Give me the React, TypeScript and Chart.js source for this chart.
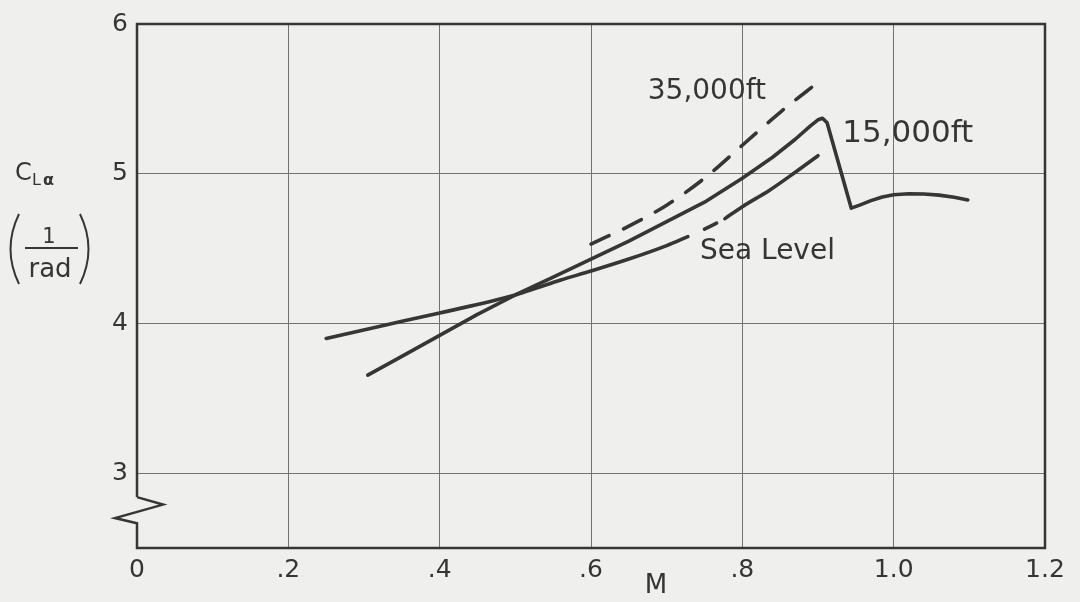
import React, { useEffect, useRef } from "react";
import { Chart, registerables } from "chart.js";

Chart.register(...registerables);

// Axis ticks
const machTicks = [0, 0.2, 0.4, 0.6, 0.8, 1.0, 1.2];
const machTickLabels = ["0", ".2", ".4", ".6", ".8", "1.0", "1.2"];
const clTicks = [3, 4, 5, 6];
const clTickLabels = ["3", "4", "5", "6"];

// Sea level lift-curve slope (null = pen lift in the curve)
const seaLevelMach = [0.25, 0.32, 0.4, 0.5, 0.53, 0.56, 0.6, 0.65, 0.7, 0.728, 0.739, 0.75, 0.766, 0.771, 0.777, 0.8, 0.836, 0.87, 0.9];
const seaLevelCl = [3.9, 3.98, 4.07, 4.19, 4.24, 4.29, 4.35, 4.43, 4.52, 4.58, null, 4.63, 4.67, null, 4.7, 4.78, 4.89, 5.01, 5.12];

// 15,000 ft
const alt15kMach = [0.305, 0.35, 0.4, 0.45, 0.5, 0.55, 0.6, 0.65, 0.7, 0.75, 0.8, 0.84, 0.87, 0.89, 0.9, 0.906, 0.912, 0.944, 0.955, 0.97, 0.985, 1.0, 1.02, 1.04, 1.06, 1.08, 1.098];
const alt15kCl = [3.655, 3.78, 3.92, 4.06, 4.19, 4.31, 4.43, 4.55, 4.68, 4.81, 4.97, 5.11, 5.23, 5.32, 5.36, 5.37, 5.34, 4.77, 4.79, 4.82, 4.845, 4.86, 4.866, 4.865, 4.857, 4.843, 4.825];

// 35,000 ft
const alt35kMach = [0.6, 0.65, 0.7, 0.75, 0.8, 0.85, 0.9];
const alt35kCl = [4.53, 4.65, 4.79, 4.97, 5.19, 5.41, 5.61];

const curveNames = ["Sea Level", "15,000ft", "35,000ft"];

const INK = "#363636";
const GRID = "#727272";
const TEXT = "#353535";
const FONT = "'DejaVu Sans', sans-serif";

const toPoints = (xs: number[], ys: (number | null)[]) =>
  xs.map((x, i) => ({ x, y: ys[i] }));

// Curve labels anchored in data space (left edge, baseline)
const curveLabelAnchors = [
  { text: curveNames[0], m: 0.744, cl: 4.43, size: 28 },
  { text: curveNames[1], m: 0.932, cl: 5.21, size: 31 },
  { text: curveNames[2], m: 0.675, cl: 5.5, size: 28 },
];

const framePlugin = {
  id: "frameAndNotes",
  afterDraw(chart: any) {
    const { ctx, chartArea, scales } = chart;
    const { left, right, top, bottom } = chartArea;
    const y = scales.y;
    const x = scales.x;
    ctx.save();

    // Plot frame with the broken-axis zigzag on the ordinate
    ctx.strokeStyle = INK;
    ctx.lineWidth = 2.5;
    ctx.lineJoin = "miter";
    ctx.beginPath();
    ctx.moveTo(left, y.getPixelForValue(2.84));
    ctx.lineTo(left, top);
    ctx.lineTo(right, top);
    ctx.lineTo(right, bottom);
    ctx.lineTo(left, bottom);
    ctx.lineTo(left, y.getPixelForValue(2.665));
    ctx.lineTo(left - 22, y.getPixelForValue(2.7));
    ctx.lineTo(left + 26, y.getPixelForValue(2.79));
    ctx.lineTo(left, y.getPixelForValue(2.84));
    ctx.stroke();

    // Curve labels
    ctx.fillStyle = TEXT;
    ctx.textAlign = "left";
    ctx.textBaseline = "alphabetic";
    for (const a of curveLabelAnchors) {
      ctx.font = `${a.size}px ${FONT}`;
      ctx.fillText(a.text, x.getPixelForValue(a.m), y.getPixelForValue(a.cl));
    }

    // Abscissa title
    ctx.textAlign = "center";
    ctx.font = `26px ${FONT}`;
    ctx.fillText("M", x.getPixelForValue(0.686), bottom + 45);

    // Ordinate title: C_L_alpha (1/rad)
    ctx.textAlign = "left";
    ctx.font = `24px ${FONT}`;
    ctx.fillText("C", 15, 180);
    ctx.font = `16px ${FONT}`;
    ctx.fillText("L", 32, 185);
    ctx.font = `bold 16px ${FONT}`;
    ctx.fillText("α", 43, 185);

    ctx.lineWidth = 2;
    ctx.beginPath();
    ctx.moveTo(19, 214);
    ctx.quadraticCurveTo(2, 249, 19, 284);
    ctx.moveTo(80, 214);
    ctx.quadraticCurveTo(97, 249, 80, 284);
    ctx.moveTo(25, 248);
    ctx.lineTo(78, 248);
    ctx.stroke();

    ctx.textAlign = "center";
    ctx.font = `21px ${FONT}`;
    ctx.fillText("1", 49, 243);
    ctx.font = `26px ${FONT}`;
    ctx.fillText("rad", 50, 277);

    ctx.restore();
  },
};

export default function App() {
  const canvasRef = useRef<HTMLCanvasElement | null>(null);

  useEffect(() => {
    document.body.style.margin = "0";
    const canvas = canvasRef.current;
    if (!canvas) return;

    const lineStyle = {
      borderColor: INK,
      borderWidth: 3.6,
      pointRadius: 0,
      fill: false,
      borderCapStyle: "round" as const,
      borderJoinStyle: "round" as const,
      spanGaps: false,
    };

    const chart = new Chart(canvas, {
      type: "line",
      data: {
        datasets: [
          {
            label: curveNames[0],
            data: toPoints(seaLevelMach, seaLevelCl),
            ...lineStyle,
            cubicInterpolationMode: "monotone" as const,
          },
          {
            label: curveNames[1],
            data: toPoints(alt15kMach, alt15kCl),
            ...lineStyle,
            tension: 0,
          },
          {
            label: curveNames[2],
            data: toPoints(alt35kMach, alt35kCl),
            ...lineStyle,
            cubicInterpolationMode: "monotone" as const,
            borderDash: [20, 16],
          },
        ],
      },
      options: {
        animation: false,
        responsive: false,
        events: [],
        layout: { padding: { top: 20, right: 35, bottom: 0, left: 0 } },
        plugins: { legend: { display: false }, tooltip: { enabled: false } },
        scales: {
          x: {
            type: "linear",
            min: 0,
            max: 1.2,
            border: { display: false },
            afterBuildTicks: (scale: any) => {
              scale.ticks = machTicks.map((v) => ({ value: v }));
            },
            afterFit: (scale: any) => {
              scale.height = 54;
            },
            grid: {
              drawTicks: false,
              lineWidth: 1,
              color: (c: any) =>
                c.tick && (c.tick.value === 0 || c.tick.value === 1.2) ? "rgba(0,0,0,0)" : GRID,
            },
            ticks: {
              padding: 7,
              color: TEXT,
              maxRotation: 0,
              autoSkip: false,
              font: { family: FONT, size: 25 },
              callback: (_v: any, i: number) => machTickLabels[i],
            },
          },
          y: {
            type: "linear",
            min: 2.5,
            max: 6,
            border: { display: false },
            afterBuildTicks: (scale: any) => {
              scale.ticks = clTicks.map((v) => ({ value: v }));
            },
            afterFit: (scale: any) => {
              scale.width = 137;
            },
            grid: {
              drawTicks: false,
              lineWidth: 1,
              color: (c: any) => (c.tick && c.tick.value === 6 ? "rgba(0,0,0,0)" : GRID),
            },
            ticks: {
              padding: 9,
              color: TEXT,
              autoSkip: false,
              font: { family: FONT, size: 25 },
              callback: (_v: any, i: number) => clTickLabels[i],
            },
          },
        },
      },
      plugins: [framePlugin],
    });

    return () => chart.destroy();
  }, []);

  return (
    <div
      style={{
        position: "absolute",
        left: 0,
        top: 0,
        width: 1080,
        height: 602,
        background: "#efefed",
      }}
    >
      <canvas ref={canvasRef} width={1080} height={602} />
    </div>
  );
}
